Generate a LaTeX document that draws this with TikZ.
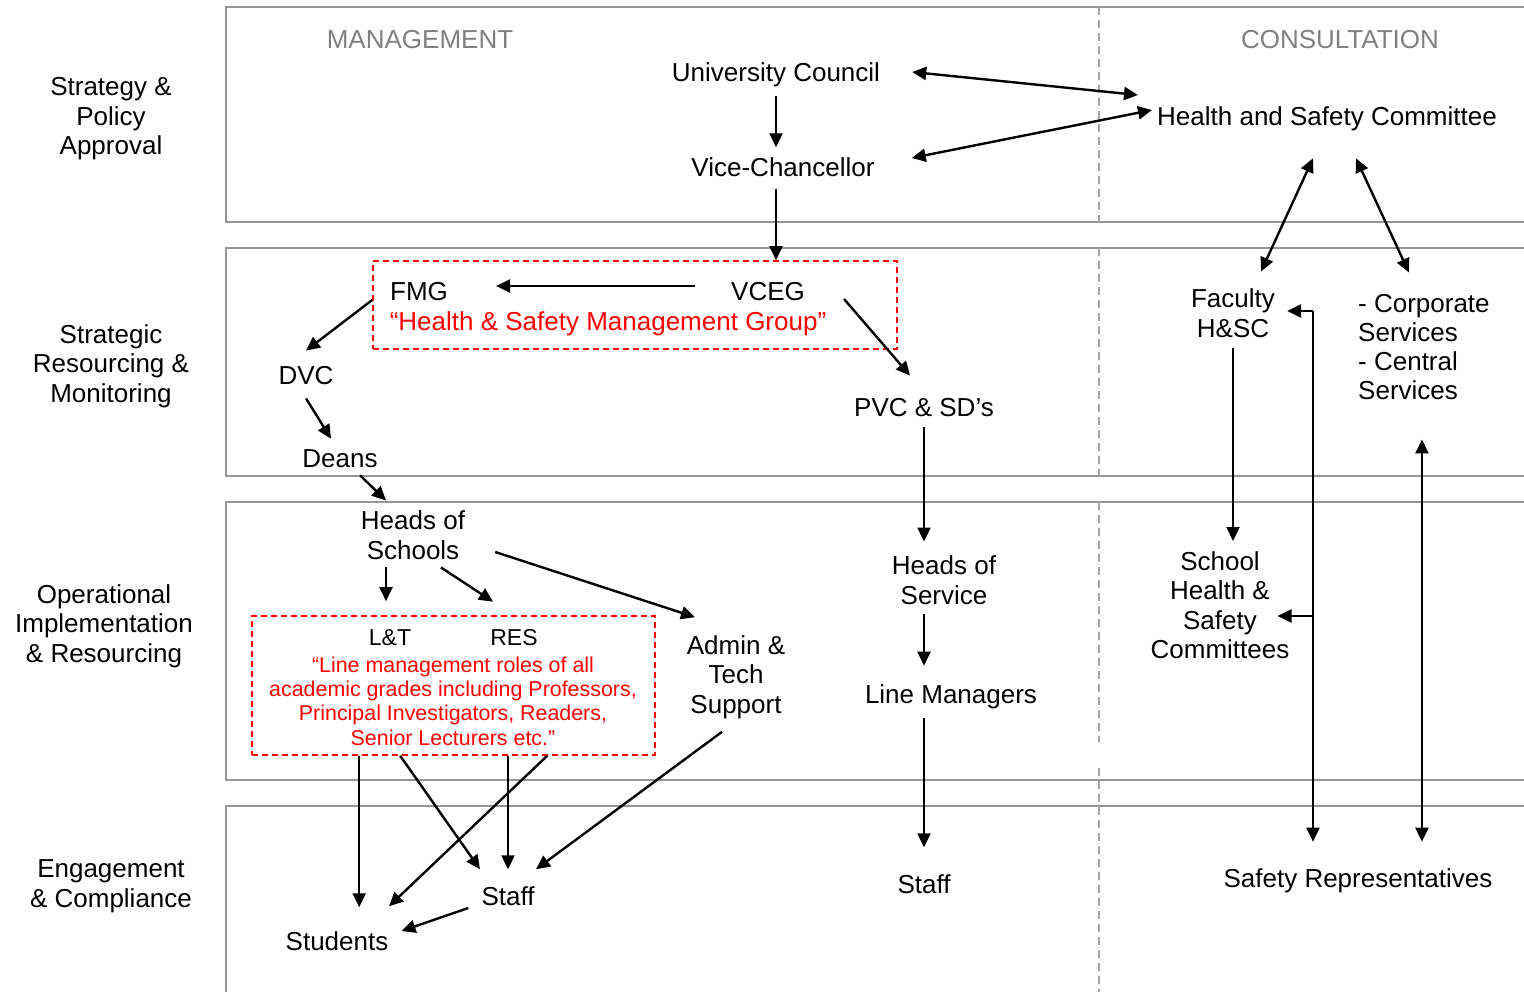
\documentclass[tikz,border=0pt]{standalone}
\usepackage{fontspec}
\setmainfont{Liberation Sans}
\usetikzlibrary{arrows.meta,fit}

\definecolor{bandgray}{RGB}{150,150,150}
\definecolor{sepgray}{RGB}{165,165,165}
\definecolor{headgray}{RGB}{128,128,128}

\tikzset{
  txt/.style={font=\fontsize{26}{29.5}\selectfont, align=center, inner sep=2pt},
  small/.style={font=\fontsize{21.4}{24.3}\selectfont, align=center, inner sep=2pt},
  band/.style={draw=bandgray, line width=2pt},
  sep/.style={draw=sepgray, line width=1.5pt, dash pattern=on 8pt off 5pt},
  redbox/.style={draw=red, line width=1.6pt, dash pattern=on 6pt off 4pt, inner sep=0pt},
  arr/.style={-{Triangle[length=14pt,width=13pt]}, line width=2.4pt},
  biarr/.style={{Triangle[length=14pt,width=13pt]}-{Triangle[length=14pt,width=13pt]}, line width=2.4pt},
}

\begin{document}
\begin{tikzpicture}[x=1pt, y=-1pt]
\clip (0,0) rectangle (1524,992);

% bands and the split between management and consultation
\draw[band] (226,7) rectangle (1560,222);
\draw[band] (226,248) rectangle (1560,476);
\draw[band] (226,502) rectangle (1560,780);
\draw[band] (226,806) rectangle (1560,1020);
\draw[sep] (1099,7) -- (1099,222);
\draw[sep] (1099,248) -- (1099,476);
\draw[sep] (1099,502) -- (1099,742);
\draw[sep] (1099,768) -- (1099,992);

\begin{scope}[every node/.style={txt}]
\node (lab1) at (111,119) {Strategy \&\\Policy\\Approval};
\node (lab2) at (111,366) {Strategic\\Resourcing \&\\Monitoring};
\node (lab3) at (104,626) {Operational\\Implementation\\\& Resourcing};
\node (lab4) at (111,886) {Engagement\\\& Compliance};

\node[text=headgray] (mgmt) at (420,40) {MANAGEMENT};
\node[text=headgray] (cons) at (1340,40) {CONSULTATION};

\node (uc) at (776,75) {University Council};
\node (vc) at (783,167) {Vice-Chancellor};
\node (hsc) at (1327,119) {Health and Safety Committee};

\node (fmg) at (419,292) {FMG};
\node (vceg) at (768,292) {VCEG};
\node[text=red] (hsmg) at (608,324) {“Health \& Safety Management Group”};
\node (dvc) at (306,376) {DVC};
\node (deans) at (340,459) {Deans};
\node (pvc) at (924,408) {PVC \& SD’s};
\node (fac) at (1233,313) {Faculty\\H\&SC};
\node[anchor=west, align=left, font=\fontsize{26}{28.7}\selectfont] (corp) at (1356,347) {- Corporate\\Services\\- Central\\Services};

\node (hos) at (413,535) {Heads of\\Schools};
\node (admin) at (736,677) {Admin \&\\Tech\\Support};
\node (hsv) at (944,580) {Heads of\\Service};
\node (lm) at (951,697) {Line Managers};
\node (shsc) at (1220,605) {School\\Health \&\\Safety\\Committees};

\node (staff) at (508,896) {Staff};
\node (students) at (337,941) {Students};
\node (staffm) at (924,884) {Staff};
\node (reps) at (1358,881) {Safety Representatives};
\end{scope}

\node[small, font=\fontsize{23}{24.3}\selectfont] (lt) at (390,638) {L\&T};
\node[small, font=\fontsize{23}{24.3}\selectfont] (res) at (514,638) {RES};
\node[small, text=red] (roles) at (453,701) {“Line management roles of all\\academic grades including Professors,\\Principal Investigators, Readers,\\Senior Lecturers etc.”};

\node[redbox, fit={(373,261) (897,349)}] (grpbox) {};
\node[redbox, fit={(252,616) (655,755)}] (ltbox) {};
\coordinate (bus) at (1313,311);

% strategy
\draw[biarr] ([xshift=30pt,yshift=3pt]uc.east) -- ([xshift=-17pt,yshift=24pt]hsc.west);
\draw[biarr] ([xshift=35pt,yshift=9pt]vc.east) -- ([xshift=-3pt,yshift=9pt]hsc.west);
\draw[arr, shorten <=7pt, shorten >=8pt] (uc.south) -- (uc.south |- vc.north);
\draw[arr, shorten <=10pt] (vc.south -| uc) -- (grpbox.north -| uc);

% resourcing
\draw[arr, shorten <=34pt, shorten >=46pt] ([yshift=6pt]vceg.west) -- ([yshift=6pt]fmg.east);
\draw[arr] ([yshift=5pt]grpbox.west) -- ([yshift=14pt]dvc.north);
\draw[arr] ([xshift=37pt,yshift=-7pt]vceg.east) -- ([xshift=-14pt,yshift=21pt]pvc.north);
\draw[arr] ([yshift=-11pt]dvc.south) -- ([xshift=-9pt,yshift=9pt]deans.north);
\draw[arr] ([xshift=20pt,yshift=-5pt]deans.south) -- ([xshift=-27pt,yshift=8pt]hos.north);

% consultation
\draw[biarr] ([xshift=-14pt,yshift=-25pt]hsc.south) -- ([xshift=28pt,yshift=15pt]fac.north);
\draw[biarr] ([xshift=29pt,yshift=-25pt]hsc.south) -- ([xshift=-15pt,yshift=20pt]corp.north);
\draw[arr, shorten <=9pt, shorten >=8pt] (fac.south) -- (fac.south |- shsc.north);
\draw[arr, shorten >=25pt] (bus) -- (bus |- reps.north);
\draw[arr] (bus) -- ([xshift=10pt]fac.east |- bus);
\draw[arr] (bus |- shsc.east) ++(0,11) -- ([xshift=-14pt,yshift=-11pt]shsc.east);
\draw[biarr, shorten <=38pt, shorten >=25pt] ([xshift=-2pt]corp.south) -- ([xshift=-2pt]corp.south |- reps.north);

% management chain
\draw[arr, shorten <=8pt, shorten >=12pt] (pvc.south) -- (pvc.south |- hsv.north);
\draw[arr, shorten <=8pt, shorten >=17pt] (pvc.south |- hsv.south) -- (pvc.south |- lm.north);
\draw[arr, shorten <=7pt, shorten >=25pt] (lm.south -| staffm) -- (staffm.north);

% schools
\draw[arr, shorten <=6pt, shorten >=14pt] ([xshift=-4pt]hos.south -| lt) -- ([xshift=-4pt]ltbox.north -| lt);
\draw[arr] ([xshift=28pt,yshift=-6pt]hos.south) -- ([xshift=-21pt,yshift=26pt]res.north);
\draw[arr] ([xshift=28pt,yshift=-17pt]hos.east) -- ([xshift=-41pt,yshift=16pt]admin.north);
\draw[arr, shorten >=22pt] ([xshift=108pt]ltbox.south west) -- ([xshift=108pt]ltbox.south west |- students.north);
\draw[arr] ([xshift=149pt]ltbox.south west) -- ([xshift=-28pt,yshift=15pt]staff.north);
\draw[arr, shorten >=15pt] (ltbox.south -| staff) -- (staff.north);
\draw[arr] ([xshift=296pt]ltbox.south west) -- ([xshift=52pt,yshift=23pt]students.north);
\draw[arr] ([xshift=-14pt,yshift=-11pt]admin.south) -- ([xshift=28pt,yshift=15pt]staff.north);
\draw[arr] ([xshift=-11pt,yshift=-12pt]staff.west) -- ([xshift=11pt,yshift=10pt]students.east);
\end{tikzpicture}
\end{document}
